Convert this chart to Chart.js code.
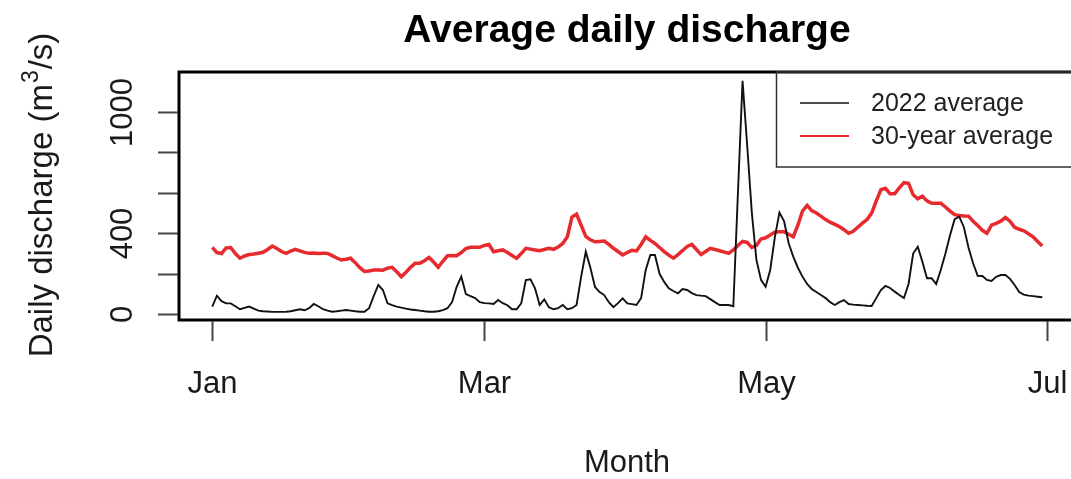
<!DOCTYPE html>
<html>
<head>
<meta charset="utf-8">
<script src="https://cdn.jsdelivr.net/npm/chart.js@4.4.1/dist/chart.umd.min.js"></script>
<style>
  html, body { margin: 0; padding: 0; background: #fff; overflow: hidden; }
  #wrap { width: 1100px; height: 479px; }
</style>
</head>
<body>
<div id="wrap"><canvas id="c" width="1100" height="479"></canvas></div>
<script>
// ---- Data (day index 0 = Jan 1, 2022) ----
const discharge2022 = [
  38, 92, 65, 54, 54, 40, 25, 32, 38, 28,
  18, 15, 14, 12, 12, 12, 13, 15, 20, 25,
  20, 30, 51, 40, 25, 18, 13, 15, 18, 21,
  18, 15, 13, 13, 30, 90, 145, 120, 54, 45,
  38, 33, 28, 24, 21, 18, 15, 13, 13, 15,
  21, 30, 60, 136, 186, 100, 90, 80, 60, 55,
  54, 51, 71, 55, 45, 25, 25, 54, 169, 173,
  128, 46, 74, 35, 25, 30, 46, 25, 30, 46,
  186, 309, 230, 135, 110, 95, 60, 35, 55, 79,
  54, 50, 46, 80, 219, 293, 293, 200, 160, 128,
  115, 104, 125, 120, 105, 95, 92, 90, 75, 60,
  46, 46, 46, 40, 600, 1153, 836, 505, 270, 170,
  136, 219, 380, 502, 460, 351, 285, 230, 186, 150,
  125, 110, 95, 80, 60, 46, 60, 70, 51, 48,
  46, 44, 42, 41, 80, 120, 140, 130, 112, 95,
  80, 150, 300, 334, 260, 178, 178, 150, 220, 300,
  390, 470, 482, 430, 330, 252, 190, 189, 170, 165,
  185, 194, 194, 175, 145, 110, 97, 92, 90, 87, 84
];
const discharge30yr = [
  331, 305, 300, 328, 330, 300, 277, 288, 295, 298,
  302, 306, 320, 337, 325, 310, 301, 312, 321, 313,
  306, 301, 303, 300, 302, 301, 290, 278, 268, 272,
  277, 255, 230, 212, 214, 219, 219, 218, 228, 232,
  210, 186, 208, 232, 252, 252, 265, 281, 258, 232,
  262, 289, 290, 289, 305, 325, 331, 331, 331, 340,
  345, 309, 314, 318, 305, 290, 277, 300, 326, 322,
  318, 314, 320, 326, 321, 332, 350, 383, 480, 495,
  440, 385, 368, 358, 360, 362, 345, 326, 310, 293,
  305, 316, 313, 345, 383, 365, 350, 330, 310, 292,
  277, 295, 315, 335, 345, 320, 295, 310, 326, 320,
  314, 308, 301, 318, 340, 360, 355, 330, 340, 372,
  378, 392, 406, 408, 408, 395, 383, 440, 510, 538,
  512, 500, 485, 468, 455, 444, 433, 418, 400, 410,
  430, 450, 468, 500, 560, 615, 622, 595, 595, 625,
  650, 647, 590, 570, 583, 560, 548, 548, 548, 530,
  510, 492, 488, 486, 485, 460, 438, 415, 400, 440,
  449, 460, 478, 460, 430, 420, 412, 398, 383, 360, 337
];
const xTickDays = [0, 59, 120, 181];
const xTickLabels = ['Jan', 'Mar', 'May', 'Jul'];
const yTickValues = [0, 200, 400, 600, 800, 1000];
const yTickLabels = ['0', '', '400', '', '', '1000'];
const seriesNames = ['2022 average', '30-year average'];
const seriesColors = ['#111111', '#e62a2e'];
const titleText = 'Average daily discharge';
const xTitle = 'Month';

const FONT = '"Liberation Sans", Arial, Helvetica, sans-serif';
const toXY = arr => arr.map((v, i) => ({ x: i, y: v }));

const rDecor = {
  id: 'rDecor',
  beforeDraw(chart) {
    const ctx = chart.ctx;
    ctx.save();
    ctx.fillStyle = '#fff';
    ctx.fillRect(0, 0, chart.width, chart.height);
    ctx.restore();
  },
  afterDraw(chart) {
    const ctx = chart.ctx;
    const a = chart.chartArea;
    const xs = chart.scales.x, ys = chart.scales.y;
    ctx.save();
    // Box
    ctx.strokeStyle = '#000';
    ctx.lineWidth = 3;
    ctx.strokeRect(a.left, a.top, a.right - a.left, a.bottom - a.top);
    // X ticks
    ctx.strokeStyle = '#444';
    ctx.lineWidth = 2;
    ctx.fillStyle = '#1a1a1a';
    ctx.font = '31px ' + FONT;
    ctx.textAlign = 'center';
    ctx.textBaseline = 'alphabetic';
    xTickDays.forEach((d, i) => {
      const px = Math.round(xs.getPixelForValue(d)) + 0.5;
      ctx.beginPath();
      ctx.moveTo(px, a.bottom + 1);
      ctx.lineTo(px, a.bottom + 21);
      ctx.stroke();
      ctx.fillText(xTickLabels[i], px, 393);
    });
    // Y ticks
    yTickValues.forEach((v, i) => {
      const py = Math.round(ys.getPixelForValue(v)) + 0.5;
      ctx.beginPath();
      ctx.moveTo(a.left - 1, py);
      ctx.lineTo(a.left - 21, py);
      ctx.stroke();
      if (yTickLabels[i]) {
        ctx.save();
        ctx.translate(132, py);
        ctx.rotate(-Math.PI / 2);
        ctx.fillText(yTickLabels[i], 0, 0);
        ctx.restore();
      }
    });
    // Title
    ctx.fillStyle = '#000';
    ctx.font = 'bold 39px ' + FONT;
    ctx.fillText(titleText, (a.left + a.right) / 2, 42);
    // X title
    ctx.fillStyle = '#1a1a1a';
    ctx.font = '31px ' + FONT;
    ctx.fillText(xTitle, (a.left + a.right) / 2, 472);
    // Y title with superscript
    ctx.save();
    ctx.translate(52, (a.top + a.bottom) / 2);
    ctx.rotate(-Math.PI / 2);
    ctx.textAlign = 'left';
    const p1 = 'Daily discharge (m', p2 = '3', p3 = '/s)';
    ctx.font = '33px ' + FONT;
    const w1 = ctx.measureText(p1).width, w3 = ctx.measureText(p3).width;
    ctx.font = '23px ' + FONT;
    const w2 = ctx.measureText(p2).width;
    let x0 = -(w1 + w2 + w3) / 2;
    ctx.font = '33px ' + FONT;
    ctx.fillText(p1, x0, 0);
    ctx.font = '23px ' + FONT;
    ctx.fillText(p2, x0 + w1 + 1, -14);
    ctx.font = '33px ' + FONT;
    ctx.fillText(p3, x0 + w1 + w2 + 2, 0);
    ctx.restore();
    // Legend
    const lx = 776, ly = a.top, lb = 167;
    ctx.strokeStyle = '#333';
    ctx.lineWidth = 1.5;
    ctx.strokeRect(lx + 0.5, ly, 1095 - lx, lb - ly);
    const rows = [103, 136];
    ctx.font = '25px ' + FONT;
    ctx.textAlign = 'left';
    ctx.textBaseline = 'middle';
    rows.forEach((ry, i) => {
      ctx.strokeStyle = seriesColors[i];
      ctx.lineWidth = i === 0 ? 1.6 : 2;
      ctx.beginPath();
      ctx.moveTo(800, ry);
      ctx.lineTo(849, ry);
      ctx.stroke();
      ctx.fillStyle = '#222';
      ctx.fillText(seriesNames[i], 871, ry + 1);
    });
    ctx.restore();
  }
};

new Chart(document.getElementById('c'), {
  type: 'line',
  data: {
    datasets: [
      { label: seriesNames[0], data: toXY(discharge2022), borderColor: seriesColors[0],
        borderWidth: 1.9, pointRadius: 0, tension: 0, fill: false, order: 1 },
      { label: seriesNames[1], data: toXY(discharge30yr), borderColor: seriesColors[1],
        borderWidth: 3.5, pointRadius: 0, tension: 0, fill: false, order: 2 }
    ]
  },
  options: {
    responsive: false,
    animation: false,
    devicePixelRatio: 1,
    layout: { padding: { left: 179, right: 25, top: 72, bottom: 159 } },
    plugins: { legend: { display: false }, tooltip: { enabled: false }, title: { display: false } },
    scales: {
      x: { type: 'linear', display: false, min: -7.22, max: 187.1 },
      y: { type: 'linear', display: false, min: -28.1, max: 1196.6 }
    }
  },
  plugins: [rDecor]
});
</script>
</body>
</html>
